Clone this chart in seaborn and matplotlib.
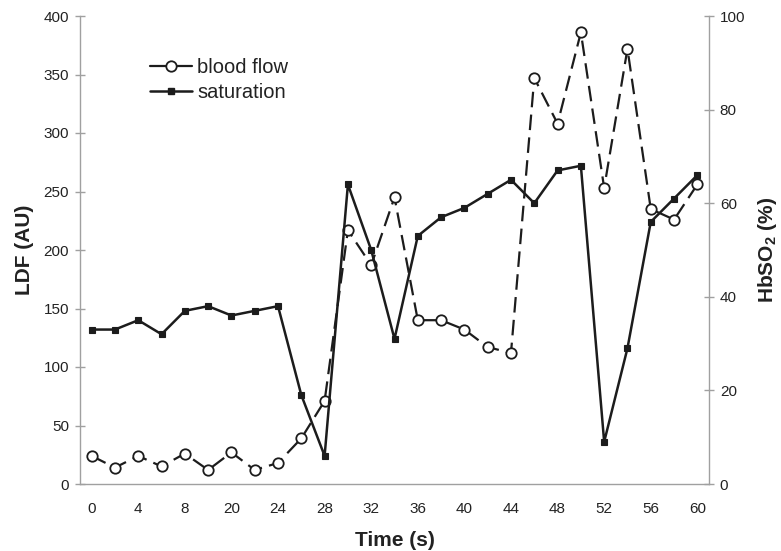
import matplotlib
matplotlib.use("Agg")
import matplotlib.pyplot as plt
from matplotlib.lines import Line2D
import seaborn as sns
import pandas as pd

# ---- data ----
time_labels = ["0", "2", "4", "6", "8", "10", "20", "22", "24", "26", "28", "30", "32", "34",
               "36", "38", "40", "42", "44", "46", "48", "50", "52", "54", "56", "58", "60"]
blood_flow = [24, 14, 24, 15, 26, 12, 27, 12, 18, 39, 71, 217, 187, 245,
              140, 140, 132, 117, 112, 347, 308, 386, 253, 372, 235, 226, 256]
saturation = [33, 33, 35, 32, 37, 38, 36, 37, 38, 19, 6, 64, 50, 31,
              53, 57, 59, 62, 65, 60, 67, 68, 9, 29, 56, 61, 66]
shown_ticks = ["0", "4", "8", "20", "24", "28", "32", "36", "40", "44", "48", "52", "56", "60"]
left_ticks = [0, 50, 100, 150, 200, 250, 300, 350, 400]
right_ticks = [0, 20, 40, 60, 80, 100]

df = pd.DataFrame({"time": time_labels, "ldf": blood_flow, "hbso2": saturation})

sns.set_style("white")
plt.rcParams["font.family"] = ["Liberation Sans", "DejaVu Sans"]

GREY = "#a0a0a0"
INK = "#1c1c1c"
TXT = "#222222"

fig = plt.figure(figsize=(7.81, 5.51), dpi=100)
ax = fig.add_axes([80 / 781, 1 - 484 / 551, (709 - 80) / 781, (484 - 16) / 551])
ax2 = ax.twinx()

sns.lineplot(data=df, x="time", y="ldf", ax=ax, sort=False, color=INK, linewidth=1.6,
             marker="o", markersize=7.5, markerfacecolor="white", markeredgecolor=INK,
             markeredgewidth=1.3)
ax.lines[0].set_linestyle((0, (7, 3.3)))

sns.lineplot(data=df, x="time", y="hbso2", ax=ax2, sort=False, color=INK, linewidth=1.8,
             marker="s", markersize=5, markerfacecolor=INK, markeredgecolor=INK,
             markeredgewidth=0.8)

n = len(time_labels)
for a in (ax, ax2):
    a.set_xlim(-0.5, n - 0.5)
    for s in a.spines.values():
        s.set_color(GREY)
        s.set_linewidth(1.0)
    a.spines["top"].set_visible(False)

ax.set_ylim(0, 400)
ax2.set_ylim(0, 100)
ax.set_yticks(left_ticks)
ax2.set_yticks(right_ticks)
ax.spines["right"].set_visible(False)
ax2.spines["left"].set_visible(False)
ax2.spines["bottom"].set_visible(False)

# x ticks: labels every other category, tick marks at category boundaries
pos = [time_labels.index(t) for t in shown_ticks]
ax.set_xticks(pos)
ax.set_xticklabels(shown_ticks)
ax.set_xticks([i - 0.5 for i in range(n + 1)], minor=True)
ax.tick_params(axis="x", which="major", length=0, pad=13, labelsize=11, labelcolor=TXT)
ax.tick_params(axis="x", which="minor", direction="inout", length=7.5, width=1.0, color=GREY)
ax.tick_params(axis="y", direction="inout", length=7.5, width=1.0, color=GREY,
               labelsize=11, labelcolor=TXT, pad=4)
ax2.tick_params(axis="y", direction="inout", length=7.5, width=1.0, color=GREY,
                labelsize=11, labelcolor=TXT, pad=4)

ax.set_xlabel("Time (s)", fontsize=15, fontweight="bold", color=TXT, labelpad=11)
ax.set_ylabel("LDF (AU)", fontsize=15, fontweight="bold", color=TXT, labelpad=7)
ax2.set_ylabel("HbSO$_\\mathregular{2}$ (%)", fontsize=15, fontweight="bold", color=TXT,
               labelpad=8)

handles = [
    Line2D([], [], color=INK, linewidth=1.6, marker="o", markersize=7.5,
           markerfacecolor="white", markeredgecolor=INK, markeredgewidth=1.3),
    Line2D([], [], color=INK, linewidth=1.8, marker="s", markersize=5,
           markerfacecolor=INK, markeredgecolor=INK),
]
fig.legend(handles, ["blood flow", "saturation"], loc="upper left",
           bbox_to_anchor=(150 / 781, 1 - 58 / 551), bbox_transform=fig.transFigure,
           frameon=False, fontsize=14.5, handlelength=2.1, handletextpad=0.25,
           labelspacing=0.3, borderpad=0, borderaxespad=0, labelcolor=TXT)

fig.savefig("out.png", dpi=100)
